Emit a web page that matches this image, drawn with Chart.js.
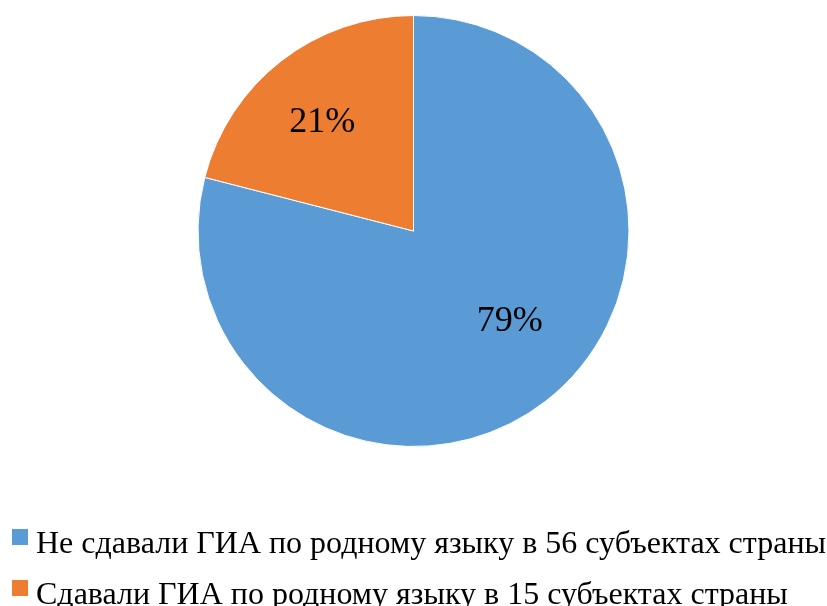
<!DOCTYPE html>
<html>
<head>
<meta charset="utf-8">
<script src="https://cdn.jsdelivr.net/npm/chart.js@4/dist/chart.umd.min.js"></script>
<style>
  html,body{margin:0;padding:0;background:#fff;}
  #wrap{width:827px;height:606px;position:relative;}
</style>
</head>
<body>
<div id="wrap"><canvas id="pieChart"></canvas></div>
<script>
/* ---------- data ---------- */
const categories=[
  "Не сдавали ГИА по родному языку в 56 субъектах страны",
  "Сдавали ГИА по родному языку в 15 субъектах страны"
];
const shares=[79,21];
const sliceColors=["#5B9BD5","#ED7D31"];
// where each % label sits: fraction along the slice angle, fraction of radius
const labelAlong=[0.469,0.471];
const labelRadius=[0.614,0.659];

const FONT="'Liberation Serif','Times New Roman',serif";

/* ---------- % labels inside slices ---------- */
const sliceLabels={
  id:"sliceLabels",
  afterDatasetsDraw(chart){
    const {ctx}=chart;
    const meta=chart.getDatasetMeta(0);
    ctx.save();
    ctx.font="36px "+FONT;
    ctx.fillStyle="#000";
    ctx.textAlign="center";
    ctx.textBaseline="middle";
    meta.data.forEach((arc,i)=>{
      const p=arc.getProps(["x","y","startAngle","endAngle","outerRadius"],true);
      const a=p.startAngle+(p.endAngle-p.startAngle)*labelAlong[i];
      const r=p.outerRadius*labelRadius[i];
      ctx.fillText(shares[i]+"%",p.x+Math.cos(a)*r,p.y+Math.sin(a)*r);
    });
    ctx.restore();
  }
};

/* ---------- legend under the pie, one row per category ---------- */
const bottomLegend={
  id:"bottomLegend",
  afterDraw(chart){
    const {ctx,chartArea}=chart;
    const ds=chart.data.datasets[0];
    ctx.save();
    ctx.font="32px "+FONT;
    ctx.textBaseline="alphabetic";
    ctx.textAlign="left";
    chart.data.labels.forEach((txt,i)=>{
      const top=chartArea.bottom+82+i*51;
      ctx.fillStyle=ds.backgroundColor[i];
      ctx.fillRect(12,top,16,16);
      ctx.fillStyle="#000";
      ctx.fillText(txt,36,top+24);
    });
    ctx.restore();
  }
};

new Chart(document.getElementById("pieChart"),{
  type:"pie",
  data:{labels:categories,datasets:[{data:shares,backgroundColor:sliceColors,borderColor:"#fff",borderWidth:1}]},
  options:{
    responsive:true,maintainAspectRatio:false,animation:false,
    layout:{padding:{top:15,bottom:159,left:0,right:0}},
    plugins:{tooltip:{enabled:false},legend:{display:false}}
  },
  plugins:[sliceLabels,bottomLegend]
});
</script>
</body>
</html>
